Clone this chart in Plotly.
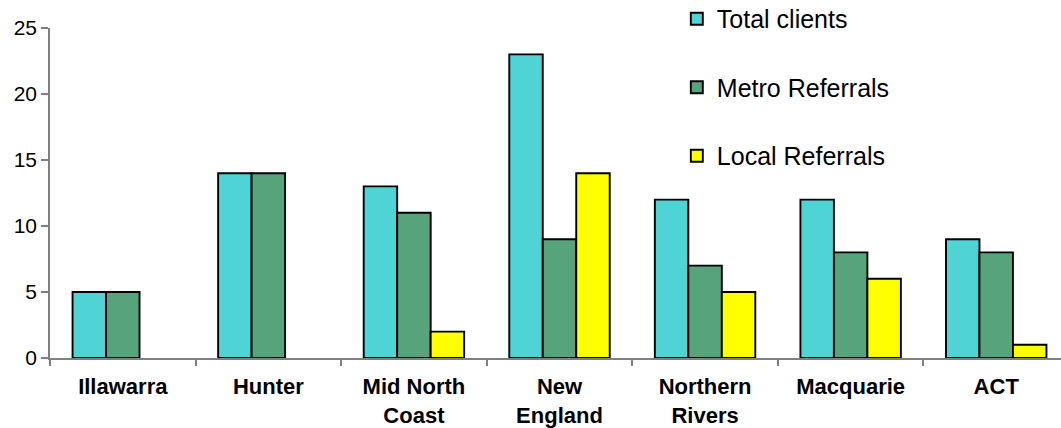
import plotly.graph_objects as go

# Clients and referral sources by region
regions = ["Illawarra", "Hunter", "Mid North<br>Coast", "New<br>England",
           "Northern<br>Rivers", "Macquarie", "ACT"]
total_clients = [5, 14, 13, 23, 12, 12, 9]
metro_referrals = [5, 14, 11, 9, 7, 8, 8]
local_referrals = [None, None, 2, 14, 5, 6, 1]

series = [
    ("Total clients", total_clients, "#4FD3D5"),
    ("Metro Referrals", metro_referrals, "#56A37C"),
    ("Local Referrals", local_referrals, "#FFFF00"),
]

fig = go.Figure()
for i, (name, vals, color) in enumerate(series):
    fig.add_trace(go.Bar(
        x=regions, y=vals, name=name,
        legendgroup=f"g{i}",
        marker=dict(color=color, line=dict(color="#000000", width=1.9)),
    ))

FONT = "Liberation Sans, Arial, sans-serif"

fig.update_layout(
    width=1061, height=428,
    margin=dict(l=50, r=0, t=28, b=70, autoexpand=False),
    paper_bgcolor="white", plot_bgcolor="white",
    barmode="group", bargap=0.31, bargroupgap=0,
    font=dict(family=FONT, color="#000000"),
    showlegend=True,
    legend=dict(
        x=0.62, xanchor="left", y=1.097, yanchor="top",
        font=dict(size=25, family=FONT, color="#000000"),
        bgcolor="rgba(0,0,0,0)", traceorder="grouped", tracegroupgap=33,
    ),
    xaxis=dict(
        range=[-0.5, 6.445],
        showline=True, linecolor="#808080", linewidth=1.5,
        ticks="outside", tickson="boundaries", ticklen=6,
        tickcolor="#808080", tickwidth=1.5, ticklabelstandoff=8,
        tickfont=dict(size=22, family=FONT, weight="bold"),
        showgrid=False, zeroline=False,
    ),
    yaxis=dict(
        range=[0, 25], tickvals=[0, 5, 10, 15, 20, 25],
        showline=True, linecolor="#808080", linewidth=1.5,
        ticks="outside", ticklen=7, tickcolor="#808080", tickwidth=1.5,
        tickfont=dict(size=21, family=FONT),
        showgrid=False, zeroline=False,
    ),
)

fig.write_html("out.html")
